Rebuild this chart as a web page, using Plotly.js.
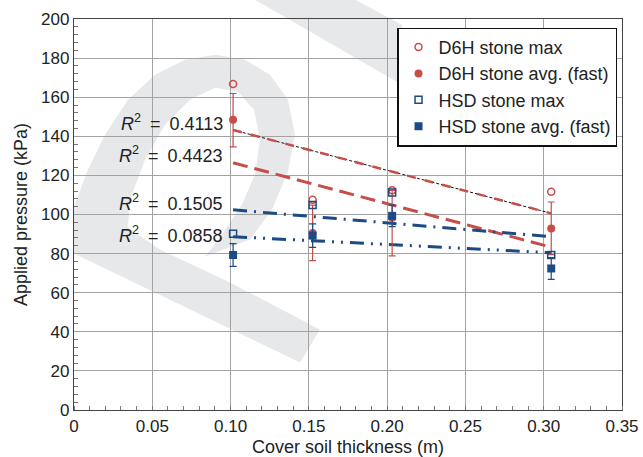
<!DOCTYPE html>
<html>
<head>
<meta charset="utf-8">
<script src="https://cdn.plot.ly/plotly-3.0.1.min.js"></script>
<style>html,body{margin:0;padding:0;background:#fff}#chart{width:643px;height:457px}</style>
</head>
<body>
<div id="chart"></div>
<script>
// ---- data ----
const thickness = [0.1016, 0.1524, 0.2032, 0.3048];
const d6hMax = [166.8, 107.5, 112.4, 111.6];
const d6hAvg = [148.5, 90.6, 98.3, 92.8];
const d6hAvgErrPlus = [13.4, 14.2, 14.0, 13.6];
const d6hAvgErrMinus = [13.9, 14.2, 19.5, 13.3];
const hsdMax = [90.1, 104.8, 111.3, 79.3];
const hsdAvg = [79.3, 89.2, 99.3, 72.4];
const hsdAvgErr = [5.8, 6.0, 5.5, 5.6];
const seriesNames = ['D6H stone max', 'D6H stone avg. (fast)', 'HSD stone max', 'HSD stone avg. (fast)'];
const r2Labels = ['0.4113', '0.4423', '0.1505', '0.0858'];
const r2LabelY = [147.2, 130.6, 105.9, 89.8];
const xTickVals = [0, 0.05, 0.10, 0.15, 0.20, 0.25, 0.30, 0.35];
const xTickText = ['0', '0.05', '0.10', '0.15', '0.20', '0.25', '0.30', '0.35'];

const RED = '#c64d48';
const BLUE = '#1b4a84';
const FONT = 'Liberation Sans, Arial, sans-serif';

// least-squares linear trend between first and last x
function trend(xs, ys) {
  const n = xs.length;
  const mx = xs.reduce((a, b) => a + b, 0) / n;
  const my = ys.reduce((a, b) => a + b, 0) / n;
  let sxy = 0, sxx = 0;
  for (let i = 0; i < n; i++) { sxy += (xs[i] - mx) * (ys[i] - my); sxx += (xs[i] - mx) ** 2; }
  const b = sxy / sxx, a = my - b * mx;
  const x0 = Math.min(...xs), x1 = Math.max(...xs);
  return { x: [x0, x1], y: [a + b * x0, a + b * x1] };
}

const t1 = trend(thickness, d6hMax);
const t2 = trend(thickness, d6hAvg);
const t3 = trend(thickness, hsdMax);
const t4 = trend(thickness, hsdAvg);

const traces = [
  { x: t1.x, y: t1.y, mode: 'lines', showlegend: false, hoverinfo: 'skip',
    line: { color: '#111', width: 1, dash: '3px,2px' } },
  { x: t1.x, y: t1.y, mode: 'lines', showlegend: false, hoverinfo: 'skip',
    line: { color: RED, width: 2.5, dash: '9px,9px' } },
  { x: t2.x, y: t2.y, mode: 'lines', showlegend: false, hoverinfo: 'skip',
    line: { color: RED, width: 3, dash: '15px,7px' } },
  { x: t3.x, y: t3.y, mode: 'lines', showlegend: false, hoverinfo: 'skip',
    line: { color: BLUE, width: 3, dash: '14px,7px,2px,7px' } },
  { x: t4.x, y: t4.y, mode: 'lines', showlegend: false, hoverinfo: 'skip',
    line: { color: BLUE, width: 3, dash: '14px,7px,2px,7px,2px,7px' } },
  { x: thickness, y: d6hMax, name: seriesNames[0], mode: 'markers',
    marker: { symbol: 'circle-open', size: 7, color: RED, line: { width: 1.5, color: RED } } },
  { x: thickness, y: d6hAvg, name: seriesNames[1], mode: 'markers',
    marker: { symbol: 'circle', size: 8, color: RED },
    error_y: { type: 'data', symmetric: false, array: d6hAvgErrPlus, arrayminus: d6hAvgErrMinus,
               color: RED, thickness: 1.2, width: 3.5 } },
  { x: thickness, y: hsdMax, name: seriesNames[2], mode: 'markers',
    marker: { symbol: 'square-open', size: 7, color: BLUE, line: { width: 1.5, color: BLUE } } },
  { x: thickness, y: hsdAvg, name: seriesNames[3], mode: 'markers',
    marker: { symbol: 'square', size: 8, color: BLUE },
    error_y: { type: 'data', array: hsdAvgErr, color: BLUE, thickness: 1.2, width: 3.5 } }
];

// watermark decoration (pixel outline -> paper coords)
const PL = 74, PR = 622, PT = 19.3, PB = 410.5;
function toPath(pts) {
  return 'M ' + pts.map(p => ((p[0] - PL) / (PR - PL)).toFixed(4) + ',' + ((PB - p[1]) / (PB - PT)).toFixed(4)).join(' L ') + ' Z';
}
const wmMain = [[74,254],[300,363],[320,330],[230,283],[160,250],[128,228],[130,200],[145,160],[165,125],[190,100],[215,88],[238,92],[254,110],[260,140],[255,175],[242,205],[222,235],[205,257],[250,240],[272,210],[288,172],[295,135],[288,100],[270,75],[245,60],[215,55],[185,60],[155,75],[128,100],[105,135],[88,170],[74,207]];
const wmTop = [[255,0],[355,0],[402,25],[402,85]];

const layout = {
  width: 643, height: 457,
  margin: { l: PL, r: 643 - PR, t: PT, b: 457 - PB },
  paper_bgcolor: '#fff', plot_bgcolor: '#fff',
  font: { family: FONT, size: 17, color: '#222' },
  showlegend: true,
  legend: { x: 0.59, y: 0.978, xanchor: 'left', yanchor: 'top', bgcolor: '#fff',
            bordercolor: '#111', borderwidth: 1.2, font: { size: 18, color: '#222' },
            traceorder: 'normal', tracegroupgap: 0 },
  xaxis: { range: [0, 0.35], tickvals: xTickVals, ticktext: xTickText,
           showgrid: true, gridcolor: '#a3a3a3', gridwidth: 1, zeroline: false,
           showline: true, linecolor: '#444', linewidth: 1.2, mirror: true, ticks: '',
           minor: { dtick: 0.01, ticks: 'inside', ticklen: 4, tickcolor: '#777', showgrid: false },
           tickfont: { size: 17 },
           title: { text: 'Cover soil thickness (m)', font: { size: 18 }, standoff: 6 } },
  yaxis: { range: [0, 200], dtick: 20, showgrid: true, gridcolor: '#a3a3a3', gridwidth: 1, zeroline: false,
           showline: true, linecolor: '#444', linewidth: 1.2, mirror: true, ticks: '',
           minor: { dtick: 4, ticks: 'inside', ticklen: 4, tickcolor: '#777', showgrid: false },
           tickfont: { size: 17 },
           title: { text: 'Applied pressure (kPa)', font: { size: 18 }, standoff: 8 } },
  shapes: [
    { type: 'path', xref: 'paper', yref: 'paper', path: toPath(wmMain), fillcolor: '#e7e8ea', line: { width: 0 }, layer: 'below' },
    { type: 'path', xref: 'paper', yref: 'paper', path: toPath(wmTop), fillcolor: '#e7e8ea', line: { width: 0 }, layer: 'below' }
  ],
  annotations: r2Labels.map((v, i) => ({
    x: 0.0965, y: r2LabelY[i], xref: 'x', yref: 'y', xanchor: 'right', yanchor: 'middle',
    showarrow: false, text: '<i>R</i><sup>2</sup>\u2002=\u2002' + v,
    font: { size: 18, color: '#222', family: FONT }
  }))
};

Plotly.newPlot('chart', traces, layout, { displayModeBar: false, staticPlot: true });
</script>
</body>
</html>
